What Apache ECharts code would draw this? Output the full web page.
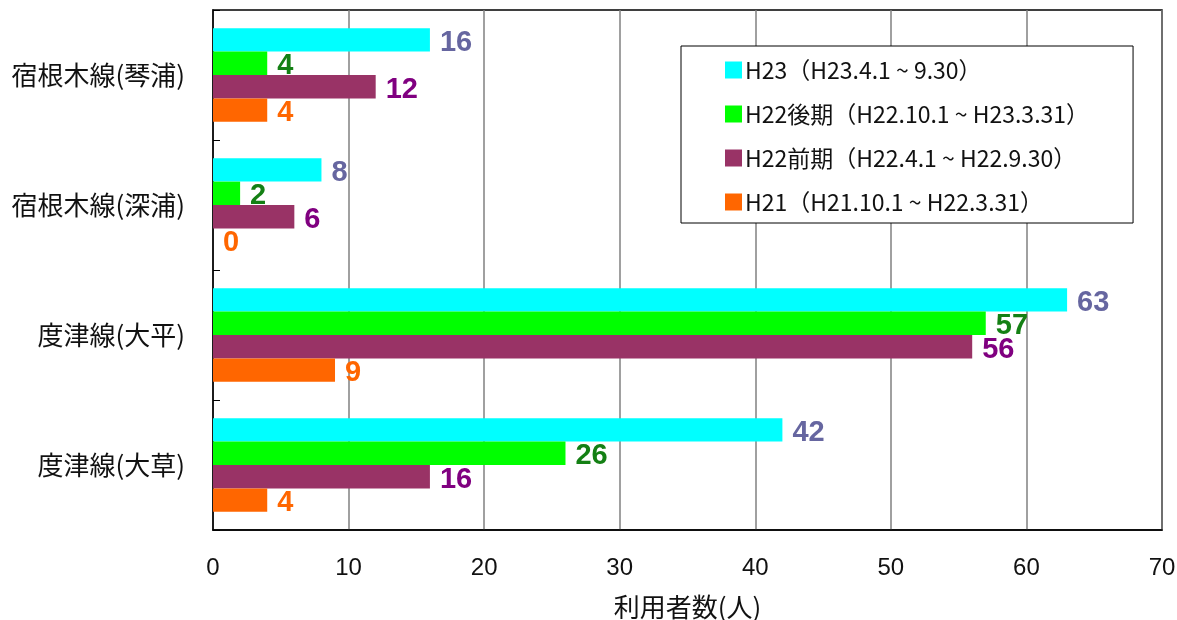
<!DOCTYPE html>
<html>
<head>
<meta charset="utf-8">
<script src="https://cdn.jsdelivr.net/npm/echarts@6/dist/echarts.min.js"></script>
<style>
html,body{margin:0;padding:0;background:#fff;}
#chart{width:1177px;height:620px;}
</style>
</head>
<body>
<div id="chart"></div>
<script>
var categories = ['宿根木線(琴浦)', '宿根木線(深浦)', '度津線(大平)', '度津線(大草)'];
var seriesNames = ['H23（H23.4.1 ~ 9.30）', 'H22後期（H22.10.1 ~ H23.3.31）', 'H22前期（H22.4.1 ~ H22.9.30）', 'H21（H21.10.1 ~ H22.3.31）'];
var h23 = [16, 8, 63, 42];
var h22late = [4, 2, 57, 26];
var h22early = [12, 6, 56, 16];
var h21 = [4, 0, 9, 4];
var xTicks = [0, 10, 20, 30, 40, 50, 60, 70];
var xName = '利用者数(人)';

var barColors = ['#00ffff', '#00ff00', '#993366', '#ff6600'];
var labelColors = ['#6666a0', '#148014', '#800080', '#ff6600'];
var allData = [h23, h22late, h22early, h21];

var chart = echarts.init(document.getElementById('chart'));
var cjk = '"Noto Sans CJK JP", "Liberation Sans", sans-serif';

var series = allData.map(function (d, i) {
  return {
    name: seriesNames[i],
    type: 'bar',
    data: d,
    barGap: '0%',
    barCategoryGap: '28%',
    itemStyle: { color: barColors[i] },
    label: {
      show: true,
      position: 'right',
      distance: 10,
      offset: [0, 3],
      color: labelColors[i],
      fontFamily: '"Liberation Sans", Arial, sans-serif',
      fontWeight: 'bold',
      fontSize: 29
    },
    emphasis: { disabled: true },
    animation: false
  };
});

chart.setOption({
  animation: false,
  backgroundColor: '#fff',
  grid: {
    left: 213, right: 15, top: 10, bottom: 90,
    containLabel: false,
    outerBoundsMode: 'none',
    show: true, borderColor: '#000', borderWidth: 1.5, backgroundColor: 'transparent'
  },
  legend: {
    orient: 'vertical',
    left: 681, top: 46,
    padding: [12, 44, 9, 44],
    itemWidth: 17, itemHeight: 17, itemGap: 20,
    icon: 'rect',
    backgroundColor: '#fff',
    borderColor: '#000', borderWidth: 1,
    borderRadius: 0,
    data: seriesNames,
    textStyle: {
      fontFamily: cjk, fontSize: 23, color: '#111', lineHeight: 24, padding: [0, 0, 0, -2]
    }
  },
  xAxis: {
    type: 'value',
    min: xTicks[0], max: xTicks[xTicks.length - 1], interval: 10,
    name: xName,
    nameLocation: 'middle',
    nameGap: 64,
    nameTextStyle: { fontFamily: cjk, fontSize: 26, color: '#111' },
    axisLine: { show: true, lineStyle: { color: '#000', width: 1.5 } },
    axisTick: { show: false },
    axisLabel: { margin: 26, fontFamily: '"Liberation Sans", Arial, sans-serif', fontSize: 24, color: '#111' },
    splitLine: { show: true, lineStyle: { color: '#808080', width: 1.5 } }
  },
  yAxis: {
    type: 'category',
    data: categories,
    inverse: true,
    axisLine: { show: true, lineStyle: { color: '#000', width: 1.5 } },
    axisTick: { show: true, inside: true, length: 7, lineStyle: { color: '#000', width: 1 } },
    axisLabel: { margin: 28, fontFamily: cjk, fontSize: 26, color: '#111' },
    splitLine: { show: false }
  },
  series: series
});
</script>
</body>
</html>
